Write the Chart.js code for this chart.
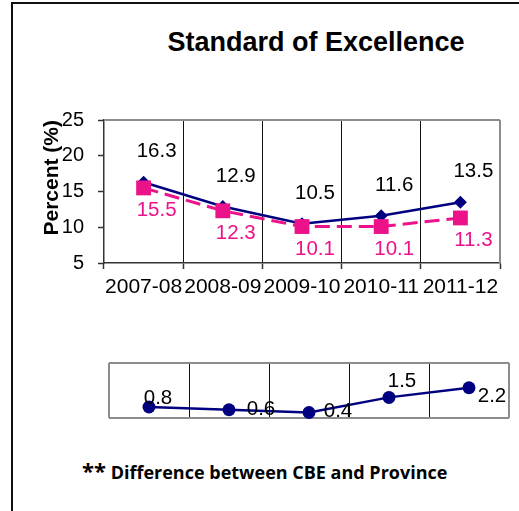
<!DOCTYPE html>
<html><head><meta charset="utf-8">
<script src="https://cdn.jsdelivr.net/npm/chart.js@4"></script>
<style>
html,body{margin:0;padding:0;background:#fff;}
#wrap{position:relative;width:519px;height:511px;overflow:hidden;background:#fff;}
#frame{position:absolute;left:11px;top:2px;width:600px;height:600px;border-left:2px solid #111;border-top:2px solid #111;}
#title{position:absolute;left:116px;top:29px;width:400px;text-align:center;font:bold 27px "Liberation Sans",Arial,sans-serif;line-height:27px;color:#000;}
#c1{position:absolute;left:0;top:0;}
#c2{position:absolute;left:0;top:340px;}
#foot{position:absolute;left:82px;top:459px;font:bold 18px "Open Sans",sans-serif;line-height:22px;white-space:nowrap;color:#000;}
#foot .ast{font-size:22px;}
</style></head><body>
<div id="wrap">
  <div id="frame"></div>
  <div id="title">Standard of Excellence</div>
  <canvas id="c1" width="519" height="300"></canvas>
  <canvas id="c2" width="519" height="100"></canvas>
  <div id="foot"><span class="ast">**</span> Difference between CBE and Province</div>
</div>
<script>
const categories = ['2007-08', '2008-09', '2009-10', '2010-11', '2011-12'];
const cbeValues = [16.3, 12.9, 10.5, 11.6, 13.5];
const provinceValues = [15.5, 12.3, 10.1, 10.1, 11.3];
const differenceValues = [0.8, 0.6, 0.4, 1.5, 2.2];
const yTicks = [5, 10, 15, 20, 25];

const FONT = '"Liberation Sans", Arial, sans-serif';
const NAVY = '#000080';
const PINK = '#EC138A';

const plotFrame = {
  id: 'plotFrame',
  beforeDatasetsDraw(chart, args, opts) {
    const {left, right, top, bottom} = chart.chartArea;
    const ctx = chart.ctx;
    ctx.save();
    ctx.strokeStyle = opts.color;
    ctx.lineWidth = opts.width;
    ctx.beginPath();
    const s = opts.sides || [];
    if (s.includes('top')) { ctx.moveTo(left, top); ctx.lineTo(right, top); }
    if (s.includes('right')) { ctx.moveTo(right, top); ctx.lineTo(right, bottom); }
    if (s.includes('bottom')) { ctx.moveTo(left, bottom); ctx.lineTo(right, bottom); }
    if (s.includes('left')) { ctx.moveTo(left, top); ctx.lineTo(left, bottom); }
    ctx.stroke();
    ctx.restore();
  }
};

const valueLabels = {
  id: 'valueLabels',
  afterDatasetsDraw(chart, args, opts) {
    const ctx = chart.ctx;
    ctx.save();
    ctx.font = (opts.size || 19) + 'px ' + FONT;
    ctx.textAlign = 'center';
    ctx.textBaseline = 'middle';
    (opts.sets || []).forEach((cfg, i) => {
      const meta = chart.getDatasetMeta(i);
      const data = chart.data.datasets[i].data;
      ctx.fillStyle = cfg.color;
      meta.data.forEach((pt, j) => {
        const off = cfg.points ? cfg.points[j] : [cfg.dx, cfg.dy];
        ctx.fillText(data[j].toFixed(1), pt.x + off[0], pt.y + off[1]);
      });
    });
    ctx.restore();
  }
};

const edgeGrid = (c) => (c.index === 0 || c.index === categories.length) ? 'rgba(0,0,0,0)' : '#111';

new Chart(document.getElementById('c1'), {
  type: 'line',
  data: {
    labels: categories,
    datasets: [
      {
        label: 'CBE', data: cbeValues, order: 1,
        borderColor: NAVY, borderWidth: 2.5, tension: 0,
        pointStyle: 'rectRot', pointRadius: 6.5, pointBackgroundColor: NAVY, pointBorderWidth: 0,
        clip: false
      },
      {
        label: 'Province', data: provinceValues, order: 0,
        borderColor: PINK, borderWidth: 3, borderDash: [15, 7], tension: 0,
        pointStyle: 'rect', pointRadius: 10.5, pointBackgroundColor: PINK, pointBorderWidth: 0,
        clip: false
      }
    ]
  },
  options: {
    responsive: false, animation: false, devicePixelRatio: 1,
    layout: {padding: {left: 30, right: 19, top: 120, bottom: 0}},
    scales: {
      x: {
        type: 'category', offset: true,
        grid: {offset: true, color: edgeGrid, lineWidth: 1, tickLength: 6, tickColor: '#333', tickWidth: 1.5},
        border: {color: '#333', width: 1.5},
        ticks: {color: '#000', font: {family: FONT, size: 21}, padding: 6, maxRotation: 0, minRotation: 0, autoSkip: false},
        afterFit: s => { s.height = 37; }
      },
      y: {
        min: 5, max: 25,
        afterBuildTicks: s => { s.ticks = yTicks.map(v => ({value: v})); },
        ticks: {color: '#000', font: {family: FONT, size: 20}, padding: 14},
        grid: {drawOnChartArea: false, tickLength: 6, tickColor: '#333', tickWidth: 1.5},
        border: {color: '#333', width: 1.5},
        title: {display: true, text: 'Percent (%)', align: 'end', color: '#000',
          font: {family: FONT, size: 21, weight: 'bold'}, padding: {top: 9.4, bottom: 0}},
        afterFit: s => { s.width = 74; }
      }
    },
    plugins: {
      legend: {display: false},
      tooltip: {enabled: false},
      plotFrame: {color: '#8c8c8c', width: 2, sides: ['top', 'right']},
      valueLabels: {size: 20.5, sets: [
        {color: '#000', dx: 13, dy: -30.5},
        {color: PINK, dx: 13, dy: 22.5}
      ]}
    }
  },
  plugins: [plotFrame, valueLabels]
});

new Chart(document.getElementById('c2'), {
  type: 'line',
  data: {
    labels: categories,
    datasets: [{
      label: 'Difference', data: differenceValues,
      borderColor: NAVY, borderWidth: 2.5, tension: 0,
      pointStyle: 'circle', pointRadius: 6.5, pointBackgroundColor: NAVY, pointBorderWidth: 0,
      clip: false
    }]
  },
  options: {
    responsive: false, animation: false, devicePixelRatio: 1,
    layout: {padding: {left: 109, right: 10, top: 23, bottom: 22}},
    scales: {
      x: {
        type: 'category', offset: true,
        grid: {offset: true, drawTicks: false, color: edgeGrid, lineWidth: 1},
        border: {display: false},
        ticks: {display: false},
        afterFit: s => { s.height = 0; }
      },
      y: {display: false, min: 0, max: 4}
    },
    plugins: {
      legend: {display: false},
      tooltip: {enabled: false},
      plotFrame: {color: '#8c8c8c', width: 2, sides: ['top', 'right', 'bottom', 'left']},
      valueLabels: {size: 20.5, sets: [
        {color: '#000', points: [[9, -9], [32, 0], [29, -1], [13, -16], [23, 9]]}
      ]}
    }
  },
  plugins: [plotFrame, valueLabels]
});
</script>
</body></html>
